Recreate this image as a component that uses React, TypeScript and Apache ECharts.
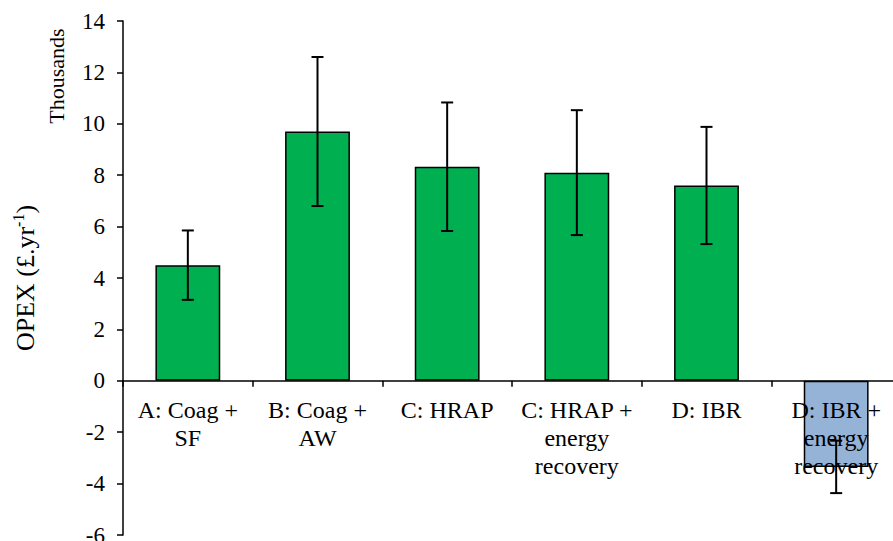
import React, { useEffect, useRef } from "react";
import * as echarts from "echarts";

const categories = [
  "A: Coag +\nSF",
  "B: Coag +\nAW",
  "C: HRAP",
  "C: HRAP +\nenergy\nrecovery",
  "D: IBR",
  "D: IBR +\nenergy\nrecovery",
];
const opexValues = [4.5, 9.7, 8.33, 8.1, 7.6, -3.35];
const errorAmounts = [1.35, 2.9, 2.5, 2.43, 2.28, 1.02];
const barColors = ["#00B050", "#00B050", "#00B050", "#00B050", "#00B050", "#95B3D7"];
const yMin = -6;
const yMax = 14;

const FONT = "Liberation Serif";

export default function App() {
  const ref = useRef<HTMLDivElement>(null);
  useEffect(() => {
    document.body.style.margin = "0";
    const chart = echarts.init(ref.current!, null, { renderer: "svg" });
    const gridTop = 21;
    const gridHeight = 514;
    const zeroOffset = -(gridHeight * (0 - yMin)) / (yMax - yMin);
    const errData = opexValues.map((v, i) => [i, v - errorAmounts[i], v + errorAmounts[i]]);
    chart.setOption({
      animation: false,
      textStyle: { fontFamily: FONT, color: "#000" },
      grid: { left: 123, top: gridTop, width: 778, height: gridHeight, containLabel: false, outerBoundsMode: "none" },
      xAxis: {
        type: "category",
        data: categories,
        z: 3,
        offset: zeroOffset,
        axisLine: { onZero: false, lineStyle: { color: "#000", width: 1.5 } },
        axisTick: { show: true, inside: false, length: 6, alignWithLabel: false, lineStyle: { color: "#000", width: 1.5 } },
        axisLabel: { interval: 0, fontFamily: FONT, fontSize: 24, color: "#000", lineHeight: 28, margin: 15 },
      },
      yAxis: {
        type: "value",
        min: yMin,
        max: yMax,
        interval: 2,
        splitLine: { show: false },
        axisLine: { show: true, lineStyle: { color: "#000", width: 1.5 } },
        axisTick: { show: true, inside: false, length: 6, lineStyle: { color: "#000", width: 1.5 } },
        axisLabel: { fontFamily: FONT, fontSize: 23, color: "#000", margin: 18 },
      },
      graphic: [
        {
          type: "text",
          x: 56,
          y: 76,
          rotation: Math.PI / 2,
          style: {
            text: "Thousands",
            fontFamily: FONT,
            fontSize: 22,
            fill: "#000",
            align: "center",
            verticalAlign: "middle",
          },
        },
        {
          type: "text",
          x: 25,
          y: 278,
          rotation: Math.PI / 2,
          style: {
            text: "{n|OPEX (£.yr}{s|-1}{n|)}",
            fill: "#000",
            align: "center",
            verticalAlign: "middle",
            rich: {
              n: { fontFamily: FONT, fontSize: 26, color: "#000", lineHeight: 30 },
              s: { fontFamily: FONT, fontSize: 16, color: "#000", verticalAlign: "top", lineHeight: 30, padding: [0, 0, 12, 0] },
            },
          },
        },
      ],
      series: [
        {
          type: "bar",
          data: opexValues.map((v, i) => ({ value: v, itemStyle: { color: barColors[i] } })),
          barWidth: "50%",
          z: 2,
          itemStyle: { borderColor: "#000", borderWidth: 1.5 },
        },
        {
          type: "custom",
          z: 10,
          data: errData,
          renderItem: (params: any, api: any) => {
            const x = api.value(0);
            const lo = api.coord([x, api.value(1)]);
            const hi = api.coord([x, api.value(2)]);
            const cap = 6;
            const style = { stroke: "#000", lineWidth: 2 };
            return {
              type: "group",
              children: [
                { type: "line", shape: { x1: lo[0], y1: lo[1], x2: hi[0], y2: hi[1] }, style },
                { type: "line", shape: { x1: lo[0] - cap, y1: lo[1], x2: lo[0] + cap, y2: lo[1] }, style },
                { type: "line", shape: { x1: hi[0] - cap, y1: hi[1], x2: hi[0] + cap, y2: hi[1] }, style },
              ],
            };
          },
        },
      ],
    });
    return () => chart.dispose();
  }, []);
  return <div ref={ref} style={{ width: 893, height: 541 }} />;
}
